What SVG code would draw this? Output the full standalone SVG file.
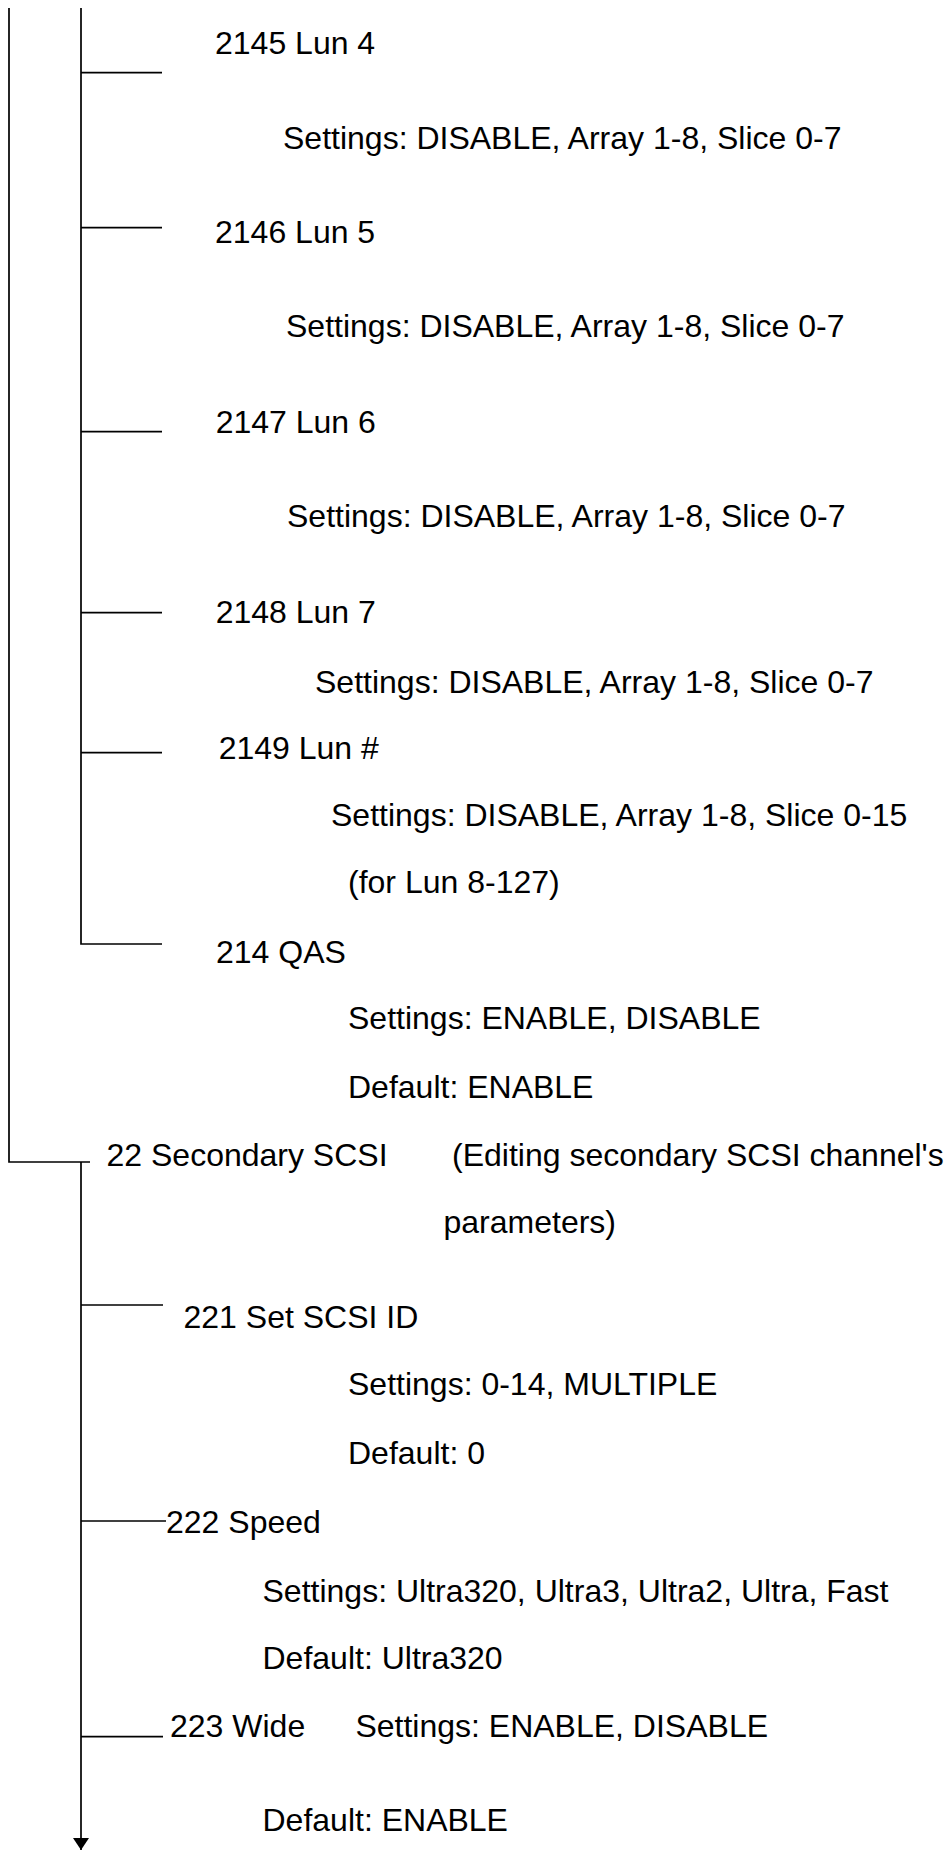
<svg xmlns="http://www.w3.org/2000/svg" width="948" height="1850" viewBox="0 0 948 1850">
<style>
text{font-family:"Liberation Sans",Arial,sans-serif;font-size:32px;fill:#000}
.ln{stroke:#000;stroke-width:1.7;fill:none}
</style>
<defs>
<marker id="arr" markerWidth="12" markerHeight="16" refX="12" refY="8" orient="auto" markerUnits="userSpaceOnUse" viewBox="0 0 12 16">
<path d="M0,0 L12,8 L0,16 Z" fill="#000"/>
</marker>
</defs>
<rect width="948" height="1850" fill="#fff"/>
<g id="connectors">
<path class="ln" d="M9,8 V1162 H90"/>
<path class="ln" d="M81,8 V944 H162"/>
<path class="ln" d="M81,72.7 H162"/>
<path class="ln" d="M81,227.7 H162"/>
<path class="ln" d="M81,431.7 H162"/>
<path class="ln" d="M81,612.7 H162"/>
<path class="ln" d="M81,752.7 H162"/>
<path class="ln" d="M81,1162 V1850" marker-end="url(#arr)"/>
<path class="ln" d="M81,1305 H163"/>
<path class="ln" d="M81,1521 H166"/>
<path class="ln" d="M81,1736.7 H163"/>
</g>
<g id="n2145"><text x="215" y="54.3">2145 Lun 4</text><text x="283" y="149.3">Settings: DISABLE, Array 1-8, Slice 0-7</text></g>
<g id="n2146"><text x="215" y="243.3">2146 Lun 5</text><text x="286" y="337.3">Settings: DISABLE, Array 1-8, Slice 0-7</text></g>
<g id="n2147"><text x="215.7" y="432.7">2147 Lun 6</text><text x="287" y="527.3">Settings: DISABLE, Array 1-8, Slice 0-7</text></g>
<g id="n2148"><text x="215.7" y="622.7">2148 Lun 7</text><text x="315" y="692.7">Settings: DISABLE, Array 1-8, Slice 0-7</text></g>
<g id="n2149"><text x="218.7" y="759.3">2149 Lun #</text><text x="331" y="826">Settings: DISABLE, Array 1-8, Slice 0-15</text><text x="348" y="892.7">(for Lun 8-127)</text></g>
<g id="n214"><text x="216" y="962.7">214 QAS</text><text x="348" y="1029.3">Settings: ENABLE, DISABLE</text><text x="348" y="1098.3">Default: ENABLE</text></g>
<g id="n22"><text x="106.5" y="1166">22 Secondary SCSI</text><text x="452" y="1166">(Editing secondary SCSI channel's</text><text x="443.5" y="1232.7">parameters)</text></g>
<g id="n221"><text x="183.5" y="1328.3">221 Set SCSI ID</text><text x="348" y="1395">Settings: 0-14, MULTIPLE</text><text x="348" y="1464">Default: 0</text></g>
<g id="n222"><text x="166" y="1532.7">222 Speed</text><text x="262.5" y="1601.7">Settings: Ultra320, Ultra3, Ultra2, Ultra, Fast</text><text x="262.5" y="1669">Default: Ultra320</text></g>
<g id="n223"><text x="170" y="1736.7">223 Wide</text><text x="355.4" y="1736.7">Settings: ENABLE, DISABLE</text><text x="262.5" y="1830.7">Default: ENABLE</text></g>
</svg>
